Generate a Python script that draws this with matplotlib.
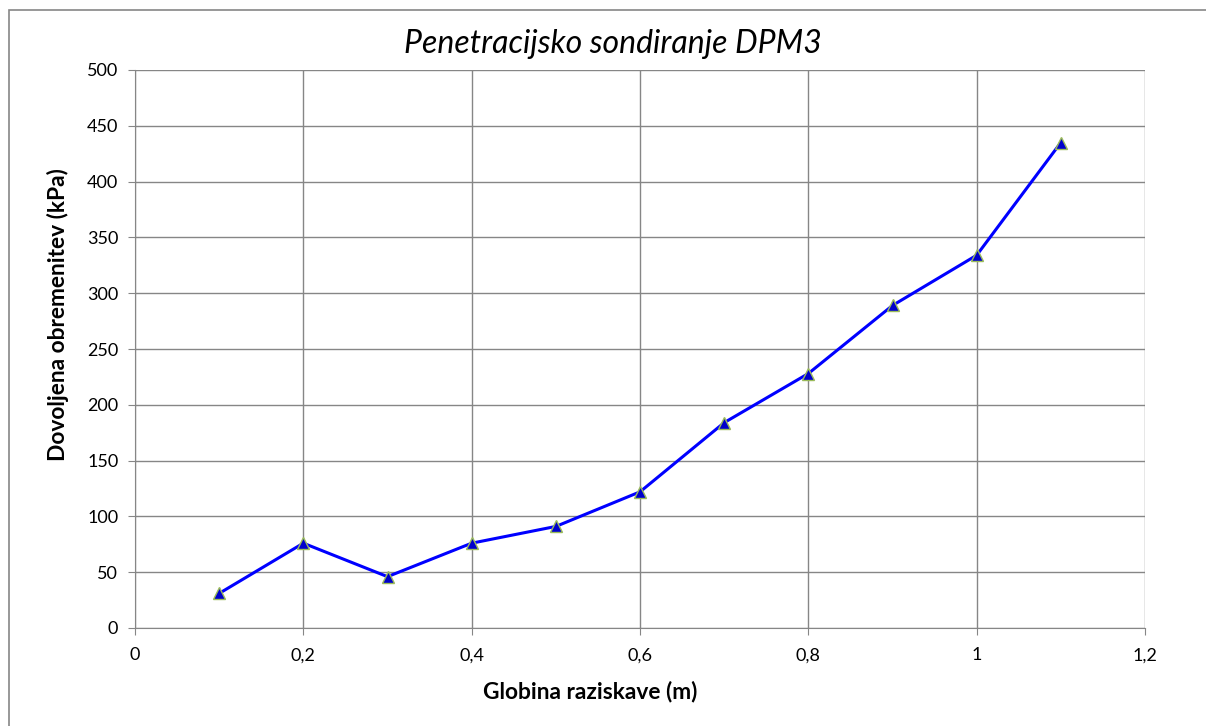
import matplotlib
matplotlib.use('Agg')
import matplotlib.pyplot as plt
from matplotlib.patches import Rectangle

# data
depth = [0.1, 0.2, 0.3, 0.4, 0.5, 0.6, 0.7, 0.8, 0.9, 1.0, 1.1]
load = [31, 76, 46, 76, 91, 122, 184, 228, 289, 334, 435]

x_ticks = [0, 0.2, 0.4, 0.6, 0.8, 1.0, 1.2]
x_labels = ['0', '0,2', '0,4', '0,6', '0,8', '1', '1,2']
y_ticks = list(range(0, 501, 50))

plt.rcParams['font.family'] = ['Lato', 'DejaVu Sans']

W, H = 1206, 726
fig = plt.figure(figsize=(W / 100, H / 100), dpi=100)
# chart area border, cropped at the right and bottom in the reference
fig.patches.append(Rectangle((8.5 / W, -10 / H), 1220 / W, 726 / H,
                             transform=fig.transFigure, fill=False,
                             edgecolor='#868686', linewidth=1.2))

ax = fig.add_axes([135 / W, 98 / H, 1010 / W, 558 / H])
ax.plot(depth, load, color='#0000FF', linewidth=2.2, marker='^', markersize=9,
        markerfacecolor='#0000CC', markeredgecolor='#9BBB59', markeredgewidth=1)

ax.set_xlim(0, 1.2)
ax.set_ylim(0, 500)
ax.set_xticks(x_ticks)
ax.set_xticklabels(x_labels)
ax.set_yticks(y_ticks)
ax.grid(True, color='#868686', linewidth=1)
ax.set_axisbelow(True)
for side in ['top', 'right']:
    ax.spines[side].set_visible(False)
for side in ['left', 'bottom']:
    ax.spines[side].set_color('#868686')
ax.tick_params(axis='both', labelsize=13, color='#868686', length=5)
ax.tick_params(axis='x', pad=9)
ax.tick_params(axis='y', pad=7)

# titles are centred on the chart area, not on the plot area
fig.text(613 / W, 1 - 44 / H, 'Penetracijsko sondiranje DPM3', fontsize=23,
         style='italic', ha='center', va='center')
fig.text(590 / W, 1 - 692 / H, 'Globina raziskave (m)', fontsize=16.4,
         fontweight='bold', ha='center', va='center')
fig.text(58 / W, 1 - 315 / H, 'Dovoljena obremenitev (kPa)', fontsize=16.4,
         fontweight='bold', ha='center', va='center', rotation=90)

fig.savefig('out.png', dpi=100)
